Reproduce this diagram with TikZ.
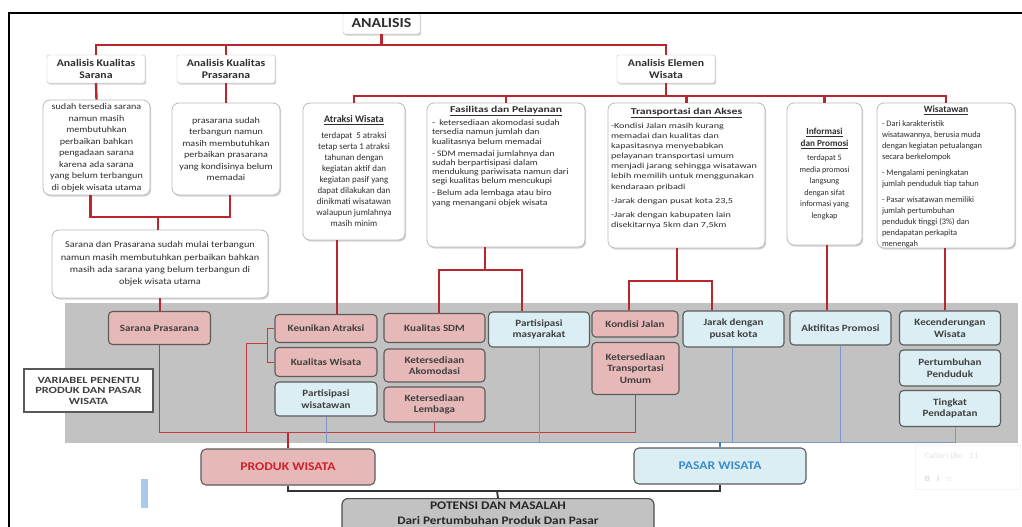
\documentclass[tikz,border=0pt]{standalone}
\usepackage{fontspec}
\setmainfont{Carlito}[FakeStretch=1.15]
\newfontfamily\widefont{Carlito}[FakeStretch=1.3]
\newfontfamily\plainfont{Carlito}
\usetikzlibrary{shadows}
\definecolor{redline}{HTML}{B9262D}
\definecolor{redthin}{HTML}{C8383C}
\definecolor{pinkf}{HTML}{E6B8B7}
\definecolor{bluef}{HTML}{DAEEF3}
\definecolor{panel}{HTML}{C2C2C2}
\definecolor{boxedge}{HTML}{5C5C5C}
\definecolor{blueline}{HTML}{7D98C8}
\definecolor{bluethick}{HTML}{4A7FB8}
\definecolor{prodred}{HTML}{D0202A}
\definecolor{pasarblue}{HTML}{3B8DC9}
\definecolor{txt}{HTML}{2E2E2E}
\definecolor{markblue}{HTML}{A9C9EF}
\newcommand{\ttl}[2]{{\fontsize{#1}{11}\selectfont\underline{\textbf{#2}}}}
\begin{document}
\begin{tikzpicture}[x=1pt,y=-1pt,
  rl/.style={draw=redline, line width=2.4pt},
  rthin/.style={draw=redthin, line width=0.9pt},
  bthin/.style={draw=blueline, line width=0.8pt},
  blk/.style={draw=black!80, line width=1.8pt},
  shad/.style={drop shadow={shadow xshift=1.2pt, shadow yshift=-1.6pt, opacity=0.35}},
  lvlone/.style={draw=gray!55, fill=white, rounded corners=2pt, shad, align=center, inner sep=0pt,
    font=\bfseries\fontsize{10.2}{11.2}\selectfont, text=txt},
  tbox/.style={draw=gray!55, fill=white, rounded corners=7pt, line width=0.8pt, shad, inner sep=0pt,
    align=center, text=txt},
  vbox/.style={draw=boxedge, rounded corners=4pt, line width=1.1pt, inner sep=0pt, align=center,
    font=\bfseries\fontsize{9.6}{11.5}\selectfont, text=black!75},
  pinkbox/.style={vbox, fill=pinkf},
  bluebox/.style={vbox, fill=bluef},
  small/.style={font=\fontsize{8.8}{11.5}\selectfont}
]
\clip (0,0) rectangle (1022,527);
\fill[white] (0,0) rectangle (1022,527);

% grey panel
\fill[panel] (65,303) rectangle (1018,443);

% top
\node[lvlone, minimum width=77pt, minimum height=21pt, font=\bfseries\fontsize{13.8}{14}\selectfont] (ana) at (381.5,23.5) {ANALISIS};
\node[lvlone, minimum width=98pt, minimum height=28pt] (kSar) at (96,69) {Analisis Kualitas\\Sarana};
\node[lvlone, minimum width=98pt, minimum height=28pt] (kPra) at (226,69) {Analisis Kualitas\\Prasarana};
\node[lvlone, minimum width=98pt, minimum height=28pt] (kEle) at (666,69) {Analisis Elemen\\Wisata};

\coordinate (busA) at (381.5,45);
\draw[rl] (ana.south) -- (busA);
\draw[rl] (kSar.north) -- (kSar.north |- busA) -- (kEle.north |- busA) -- (kEle.north);
\draw[rl] (kPra.north) -- (kPra.north |- busA);

% sarana / prasarana text boxes
\node[tbox, small, minimum width=107pt, minimum height=95pt] (tSar) at (96.5,147.5)
  {sudah tersedia sarana\\namun masih\\membutuhkan\\perbaikan bahkan\\pengadaan sarana\\karena ada sarana\\yang belum terbangun\\di objek wisata utama};
\node[tbox, small, minimum width=108pt, minimum height=92pt] (tPra) at (226,149)
  {prasarana sudah\\terbangun namun\\masih membutuhkan\\perbaikan prasarana\\yang kondisinya belum\\memadai};
\node[tbox, font=\fontsize{9}{12.3}\selectfont, minimum width=216pt, minimum height=68pt] (tSP) at (160,264)
  {Sarana dan Prasarana sudah mulai terbangun\\namun masih membutuhkan perbaikan bahkan\\masih ada sarana yang belum terbangun di\\objek wisata utama};
\draw[rl] (kSar.south) -- (tSar.north);
\draw[rl] (kPra.south) -- (tPra.north);
\coordinate (busB) at (158,217);
\draw[rl] ([xshift=-6pt]tSar.south) -- ([xshift=-6pt]tSar.south |- busB) -- ([xshift=4pt]tPra.south |- busB) -- ([xshift=4pt]tPra.south);
\draw[rl] (busB) -- (busB |- tSP.north);

% element boxes
\node[tbox, font=\plainfont\fontsize{8.9}{11}\selectfont, minimum width=102pt, minimum height=137pt] (atr) at (354,171.5)
  {\ttl{10}{Atraksi Wisata}\\[5pt]terdapat\ \ 5 atraksi\\tetap serta 1 atraksi\\tahunan dengan\\kegiatan aktif dan\\kegiatan pasif yang\\dapat dilakukan dan\\dinikmati wisatawan\\walaupun jumlahnya\\masih minim};
\node[tbox, minimum width=158pt, minimum height=144pt] (fas) at (506,175)
  {\parbox[c][138pt][t]{148pt}{\fontsize{8.4}{9.3}\selectfont\centering
   {\widefont\fontsize{9}{10}\selectfont\underline{\textbf{Fasilitas dan Pelayanan}}}\par\vspace{4pt}\raggedright
   -\ \ ketersediaan akomodasi sudah\\tersedia namun jumlah dan\\kualitasnya belum memadai\par\vspace{2.5pt}
   - SDM memadai jumlahnya dan\\sudah berpartisipasi dalam\\mendukung pariwisata namun dari\\segi kualitas belum mencukupi\par\vspace{2.5pt}
   - Belum ada lembaga atau biro\\yang menangani objek wisata}};
\node[tbox, minimum width=157pt, minimum height=145pt] (tra) at (686.5,175.5)
  {\parbox[c][139pt][t]{151pt}{\widefont\fontsize{7.8}{10.1}\selectfont\centering
   \vspace*{2pt}{\fontsize{9}{10}\selectfont\underline{\textbf{Transportasi dan Akses}}}\par\vspace{4pt}\raggedright
   -Kondisi Jalan masih kurang\\memadai dan kualitas dan\\kapasitasnya menyebabkan\\pelayanan transportasi umum\\menjadi jarang sehingga wisatawan\\lebih memilih untuk menggunakan\\kendaraan pribadi\par\vspace{4pt}
   -Jarak dengan pusat kota 23,5\par\vspace{4pt}
   -Jarak dengan kabupaten lain\\disekitarnya 5km dan 7,5km}};
\node[tbox, font=\plainfont\fontsize{8.2}{11.5}\selectfont, minimum width=75pt, minimum height=142pt] (inf) at (824.5,174)
  {\ttl{9.2}{Informasi}\\\ttl{9.2}{dan Promosi}\\[3pt]terdapat 5\\media promosi\\langsung\\dengan sifat\\informasi yang\\lengkap};
\node[tbox, minimum width=138pt, minimum height=145pt] (wis) at (946,175.5)
  {\parbox[c][141pt][t]{128pt}{\plainfont\fontsize{8.4}{11}\selectfont\centering
   \vspace*{1pt}{\fontsize{9.6}{10}\selectfont\underline{\textbf{Wisatawan}}}\par\vspace{3pt}\raggedright
   - Dari karakteristik\\wisatawannya, berusia muda\\dengan kegiatan petualangan\\secara berkelompok\par\vspace{5pt}
   - Mengalami peningkatan\\jumlah penduduk tiap tahun\par\vspace{5pt}
   - Pasar wisatawan memiliki\\jumlah pertumbuhan\\penduduk tinggi (3\%) dan\\pendapatan perkapita\\menengah}};

\coordinate (busC) at (666,96);
\draw[rl] (kEle.south) -- (busC);
\draw[rl] (atr.north) -- (atr.north |- busC) -- (wis.north |- busC) -- (wis.north);
\draw[rl] (fas.north) -- (fas.north |- busC);
\draw[rl] (tra.north) -- (tra.north |- busC);
\draw[rl] (inf.north) -- (inf.north |- busC);

% variable nodes
\node[pinkbox, minimum width=102pt, minimum height=33pt] (sp) at (159.5,328) {Sarana Prasarana};
\node[pinkbox, minimum width=102pt, minimum height=28pt] (keu) at (326,328.5) {Keunikan Atraksi};
\node[pinkbox, minimum width=102pt, minimum height=29pt] (kw) at (326,362) {Kualitas Wisata};
\node[bluebox, minimum width=102pt, minimum height=34pt] (pw) at (326,399) {Partisipasi\\wisatawan};
\node[pinkbox, minimum width=101pt, minimum height=29pt] (sdm) at (434.5,328) {Kualitas SDM};
\node[pinkbox, minimum width=101pt, minimum height=33pt] (ako) at (434.5,365.5) {Ketersediaan\\Akomodasi};
\node[pinkbox, minimum width=101pt, minimum height=35pt] (lem) at (434.5,404.5) {Ketersediaan\\Lembaga};
\node[bluebox, minimum width=101pt, minimum height=35pt] (pm) at (539,329.5) {Partisipasi\\masyarakat};
\node[pinkbox, minimum width=86pt, minimum height=26pt] (kj) at (635,324) {Kondisi Jalan};
\node[pinkbox, minimum width=87pt, minimum height=52pt] (ktu) at (635.5,368.5) {Ketersediaan\\Transportasi\\Umum};
\node[bluebox, minimum width=101pt, minimum height=36pt] (jar) at (733.5,329) {Jarak dengan\\pusat kota};
\node[bluebox, minimum width=101pt, minimum height=34pt] (ak) at (840.5,328) {Aktifitas Promosi};
\node[bluebox, minimum width=101pt, minimum height=34pt] (kec) at (950,328) {Kecenderungan\\Wisata};
\node[bluebox, minimum width=101pt, minimum height=36pt] (pp) at (950,368) {Pertumbuhan\\Penduduk};
\node[bluebox, minimum width=101pt, minimum height=36pt] (tp) at (950,408.5) {Tingkat\\Pendapatan};

\node[draw=black!65, line width=1.1pt, fill=white, minimum width=129pt, minimum height=43pt, align=center,
  font=\widefont\bfseries\fontsize{9.5}{10.5}\selectfont, text=black!75] (var) at (88.5,390.5)
  {VARIABEL PENENTU\\PRODUK DAN PASAR\\WISATA};

% red connectors from analysis to variables
\draw[rl] (tSP.south) -- (tSP.south |- sp.north);
\draw[rl] ([xshift=-17pt]atr.south) -- ([xshift=-17pt]atr.south |- keu.north);
\coordinate (busF) at (485,270);
\draw[rl] ([xshift=-21pt]fas.south) -- (busF);
\draw[rl] ([xshift=4.5pt]sdm.north) -- ([xshift=4.5pt]sdm.north |- busF) -- ([xshift=-17pt]pm.north |- busF) -- ([xshift=-17pt]pm.north);
\coordinate (busT) at (677,281);
\draw[rl] ([xshift=-9.5pt]tra.south) -- (busT);
\draw[rl] ([xshift=-6pt]kj.north) -- ([xshift=-6pt]kj.north |- busT) -- ([xshift=-21.5pt]jar.north |- busT) -- ([xshift=-21.5pt]jar.north);
\draw[rl] ([xshift=2.5pt]inf.south) -- ([xshift=2.5pt]inf.south |- ak.north);
\draw[rl] ([xshift=-1pt]wis.south) -- ([xshift=-1pt]wis.south |- kec.north);

% produk / pasar
\node[draw=boxedge, fill=pinkf, rounded corners=5pt, line width=1.1pt, minimum width=174pt, minimum height=36pt,
  font=\bfseries\fontsize{11.8}{13}\selectfont, text=prodred] (prod) at (288,467) {PRODUK WISATA};
\node[draw=boxedge, fill=bluef, rounded corners=5pt, line width=1.1pt, minimum width=172pt, minimum height=36pt,
  font=\bfseries\fontsize{11.8}{13}\selectfont, text=pasarblue] (pasar) at (720,466) {PASAR WISATA};

\coordinate (busR) at (288,432.5);
\draw[rthin] (sp.south) -- (sp.south |- busR) -- (ktu.south |- busR) -- (ktu.south);
\draw[rthin] (lem.south) -- (lem.south |- busR);
\coordinate (brk) at (267,343);
\coordinate (brkL) at (246,343);
\draw[rthin] (keu.west) -- (keu.west -| brk) -- (kw.west -| brk) -- (kw.west);
\draw[rthin] (brk) -- (brkL) -- (brkL |- busR);
\draw[rl] (busR) -- (prod.north);

\coordinate (busP) at (720,442);
\draw[bthin] (pw.south) -- (pw.south |- busP) -- ([xshift=5pt]tp.south |- busP) -- ([xshift=5pt]tp.south);
\draw[bthin] (pm.south) -- (pm.south |- busP);
\draw[bthin] ([xshift=-1.5pt]jar.south) -- ([xshift=-1.5pt]jar.south |- busP);
\draw[bthin] (ak.south) -- (ak.south |- busP);
\draw[draw=bluethick, line width=2pt] (busP) -- (pasar.north);

% potensi
\node[draw=black!70, fill=panel, rounded corners=6pt, line width=1.1pt, minimum width=312pt, minimum height=50pt,
  align=center, font=\bfseries\fontsize{11.7}{14.5}\selectfont, text=black!85, anchor=north] (pot) at (498,498)
  {POTENSI DAN MASALAH\\\fontsize{11.5}{13}\selectfont Dari Pertumbuhan Produk Dan Pasar\\[8pt]\ };
\coordinate (busK) at (497,491);
\draw[blk] (prod.south) -- (prod.south |- busK) -- (pasar.south |- busK) -- (pasar.south);
\draw[blk] (busK) -- (pot.north);

% small blue mark
\fill[markblue] (141,479) rectangle (148,508);

% faint mini toolbar
\node[draw=gray!8, fill=white, minimum width=105pt, minimum height=44pt, anchor=north west, inner sep=0pt] (tb) at (915,445) {};
\node[text=gray!22, font=\fontsize{8}{9}\selectfont, anchor=west] (tbf) at (921,456) {Calibri (Bo \ \ 11 \ \ };
\node[text=gray!25, font=\bfseries\fontsize{8.5}{9}\selectfont, anchor=west] (tbb) at (921,479) {B \ \ \textit{I} \ \ $\equiv$};

% frame
\draw[line width=1.3pt] (9,527) -- (9,13) -- (1022,13);
\end{tikzpicture}
\end{document}
